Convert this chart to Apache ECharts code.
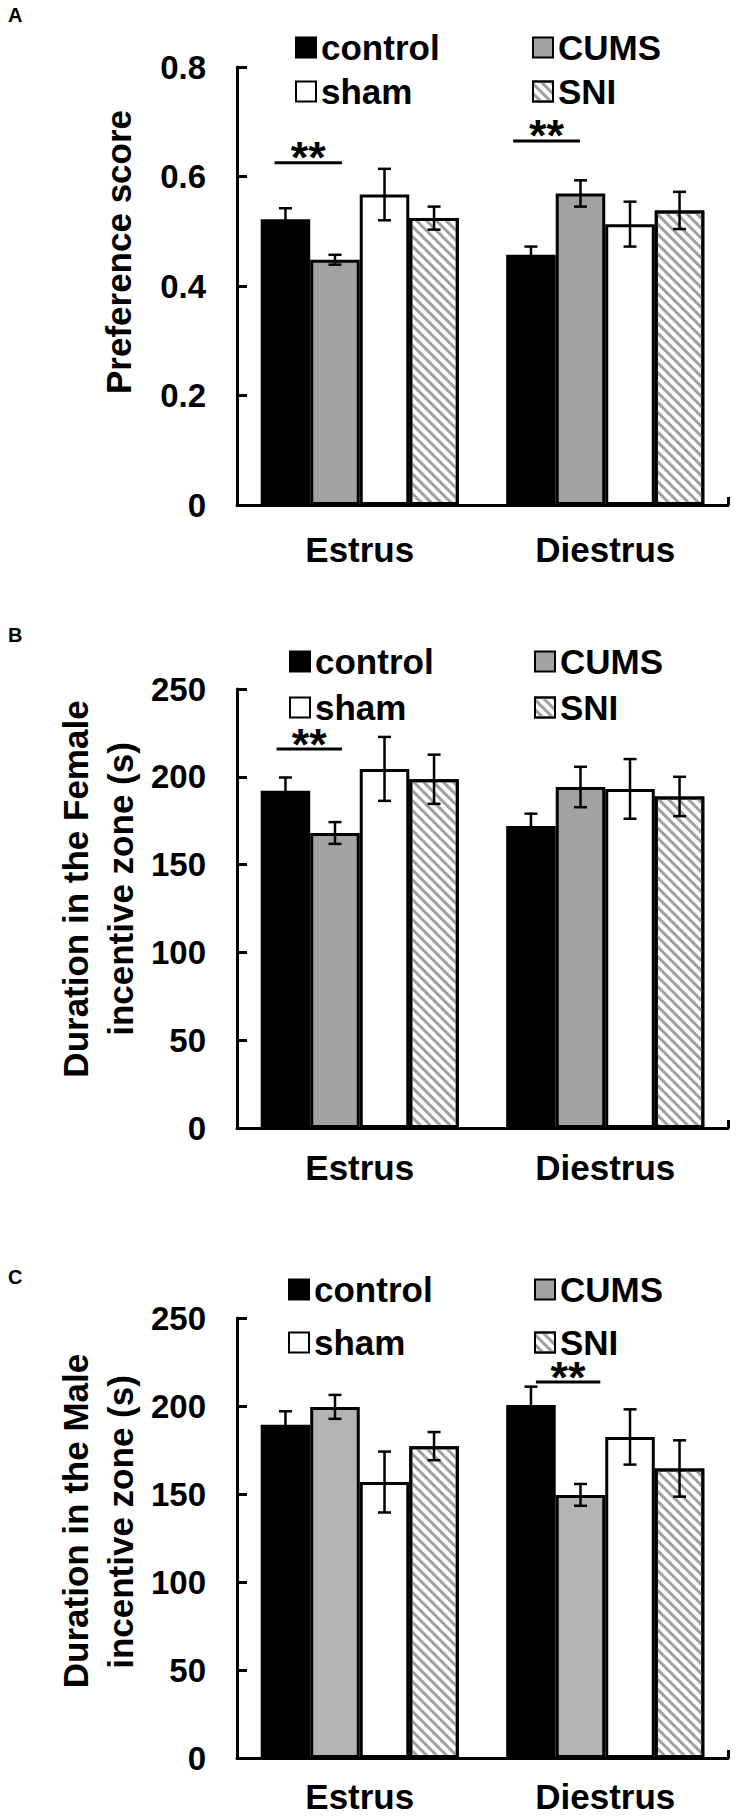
<!DOCTYPE html>
<html><head><meta charset="utf-8">
<script src="https://cdn.jsdelivr.net/npm/echarts@6/dist/echarts.min.js"></script>
<style>html,body{margin:0;padding:0;background:#fff}#c{width:739px;height:1818px}</style>
</head><body><div id="c"></div>
<script>
// ---------- data ----------
const categories = ['Estrus', 'Diestrus'];
const groups = ['control', 'CUMS', 'sham', 'SNI'];

// Panel A: Preference score (order: control, CUMS, sham, SNI; values for Estrus, Diestrus)
const prefMean = [[0.522, 0.457], [0.448, 0.569], [0.567, 0.513], [0.524, 0.538]];
const prefSE   = [[0.020, 0.015], [0.009, 0.024], [0.047, 0.041], [0.021, 0.034]];
const prefSig  = [[0, 0.625, 0, 1], [1, 0.665, 0, 1]];   // [category, height, groupFrom, groupTo]
const prefTicks = [0, 0.2, 0.4, 0.6, 0.8];

// Panel B: Duration in the female incentive zone (s)
const femMean = [[192.1, 172.0], [168.0, 194.2], [204.5, 193.1], [198.6, 188.8]];
const femSE   = [[7.5, 7.0], [6.2, 11.5], [18.2, 17.0], [14.0, 11.2]];
const femSig  = [[0, 215.8, 0, 1]];
const femTicks = [0, 50, 100, 150, 200, 250];

// Panel C: Duration in the male incentive zone (s)
const maleMean = [[189.4, 200.5], [199.5, 149.5], [156.8, 182.4], [177.2, 164.5]];
const maleSE   = [[7.6, 10.5], [6.8, 6.2], [17.3, 15.7], [8.0, 16.0]];
const maleSig  = [[1, 213.6, 0, 1]];
const maleTicks = [0, 50, 100, 150, 200, 250];

// ---------- styles / layout ----------
const FONT = "'Liberation Sans', Arial, Helvetica, sans-serif";
const CAT_GAP = 0.193;
const panels = [
  { letter: 'A', letterY: 15, top: 67, height: 438, mean: prefMean, se: prefSE, sig: prefSig, ticks: prefTicks,
    titles: [['Preference score', 118, 252]], cumsColor: '#a2a2a2', labelMargin: 27,
    legendRows: [48, 92], legendCols: [295, 532], sigOff: [[0.28, 1.64], [0.14, 1.49]] },
  { letter: 'B', letterY: 635, top: 689, height: 439, mean: femMean, se: femSE, sig: femSig, ticks: femTicks,
    titles: [['Duration in the Female', 75, 889], ['incentive zone (s)', 120, 889]], cumsColor: '#a2a2a2', labelMargin: 22,
    legendRows: [662, 708], legendCols: [289, 534], sigOff: [[0.32, 1.64]] },
  { letter: 'C', letterY: 1277, top: 1318, height: 440, mean: maleMean, se: maleSE, sig: maleSig, ticks: maleTicks,
    titles: [['Duration in the Male', 75, 1521], ['incentive zone (s)', 120, 1522]], cumsColor: '#b4b4b4', labelMargin: 21,
    legendRows: [1290, 1343], legendCols: [288, 534], sigOff: [[0.6, 1.9]] }
];

const sniDecal = { symbol: 'rect', symbolSize: 1, dashArrayX: [1, 0], dashArrayY: [3, 4],
  rotation: Math.PI / 4, color: '#a0a0a0', backgroundColor: '#ffffff' };

function barLayout(api, ci) {
  const band = api.size([1, 0])[0];
  const gw = band * (1 - CAT_GAP);
  const bw = gw / groups.length;
  const left = api.coord([ci, 0])[0] - gw / 2;
  return { left, bw };
}

const grid = [], xAxis = [], yAxis = [], series = [], legend = [], graphic = [];

panels.forEach((p, pi) => {
  grid.push({ left: 237, right: 11, top: p.top, height: p.height, containLabel: false });
  xAxis.push({
    type: 'category', gridIndex: pi, data: categories,
    axisLine: { lineStyle: { color: '#000', width: 3 } },
    axisTick: { show: true, inside: true, length: 8, lineStyle: { color: '#000', width: 3 },
      interval: function (idx) { return idx !== 1; } },
    axisLabel: { color: '#000', fontSize: 35, fontWeight: 'bold', fontFamily: FONT, margin: p.labelMargin }
  });
  const tk = p.ticks;
  yAxis.push({
    type: 'value', gridIndex: pi, min: tk[0], max: tk[tk.length - 1], interval: tk[1] - tk[0],
    splitLine: { show: false },
    axisLine: { show: true, lineStyle: { color: '#000', width: 3 } },
    axisTick: { show: true, inside: true, length: 10, lineStyle: { color: '#000', width: 3 } },
    axisLabel: { color: '#000', fontSize: 33, fontWeight: 'bold', fontFamily: FONT, margin: 31 }
  });

  groups.forEach((g, k) => {
    let color = '#000';
    if (g === 'CUMS') color = p.cumsColor;
    if (g === 'sham') color = '#fff';
    if (g === 'SNI') color = '#fff';
    const itemStyle = { color, borderColor: '#000', borderWidth: 3 };
    if (g === 'SNI') itemStyle.decal = sniDecal;
    series.push({
      type: 'bar', name: g, xAxisIndex: pi, yAxisIndex: pi, data: p.mean[k],
      barGap: '0%', barCategoryGap: (CAT_GAP * 100) + '%', itemStyle, silent: true,
      emphasis: { disabled: true }, animation: false
    });
  });

  // error bars
  const ebData = [];
  groups.forEach((g, k) => categories.forEach((c, ci) => ebData.push([ci, p.mean[k][ci], p.se[k][ci], k])));
  series.push({
    type: 'custom', xAxisIndex: pi, yAxisIndex: pi, data: ebData, z: 5, silent: true, animation: false,
    encode: { x: 0, y: 1 }, clip: false,
    renderItem: function (params, api) {
      const ci = api.value(0), m = api.value(1), s = api.value(2), k = api.value(3);
      const L = barLayout(api, ci);
      const x = L.left + (k + 0.5) * L.bw;
      const y1 = api.coord([ci, m + s])[1], y2 = api.coord([ci, m - s])[1];
      const hw = 6.5;
      const st = { stroke: '#000', lineWidth: 2.5 };
      return { type: 'group', children: [
        { type: 'line', shape: { x1: x, y1: y1, x2: x, y2: y2 }, style: st },
        { type: 'line', shape: { x1: x - hw, y1: y1, x2: x + hw, y2: y1 }, style: st },
        { type: 'line', shape: { x1: x - hw, y1: y2, x2: x + hw, y2: y2 }, style: st }
      ] };
    }
  });

  // significance marks
  series.push({
    type: 'custom', xAxisIndex: pi, yAxisIndex: pi, data: p.sig, z: 6, silent: true, animation: false,
    encode: { x: 0, y: 1 }, clip: false,
    renderItem: function (params, api) {
      const ci = api.value(0), h = api.value(1);
      const off = p.sigOff[params.dataIndex];
      const L = barLayout(api, ci);
      const xa = L.left + off[0] * L.bw, xb = L.left + off[1] * L.bw;
      const y = api.coord([ci, h])[1];
      return { type: 'group', children: [
        { type: 'line', shape: { x1: xa, y1: y, x2: xb, y2: y }, style: { stroke: '#000', lineWidth: 3 } },
        { type: 'text', x: (xa + xb) / 2, y: y - 5,
          style: { text: '**', fill: '#000', font: 'bold 45px ' + FONT, textAlign: 'center', textVerticalAlign: 'middle' } }
      ] };
    }
  });

  // legends
  const layout = [['control', 0, 0], ['CUMS', 0, 1], ['sham', 1, 0], ['SNI', 1, 1]];
  layout.forEach(([name, r, c]) => {
    legend.push({
      data: [name], left: p.legendCols[c], top: p.legendRows[r] - 18, padding: 0,
      itemWidth: 20, itemHeight: 20, icon: 'rect', selectedMode: false,
      itemStyle: { borderColor: '#000', borderWidth: 2 },
      textStyle: { color: '#000', fontSize: 35, fontWeight: 'bold', fontFamily: FONT }
    });
  });

  // panel letter
  graphic.push({ type: 'text', left: 8, top: p.letterY - 10,
    style: { text: p.letter, fill: '#000', font: 'bold 20px ' + FONT } });
  // y axis titles
  p.titles.forEach(([t, x, y]) => {
    graphic.push({ type: 'text', x: x, y: y, rotation: Math.PI / 2,
      style: { text: t, fill: '#000', font: 'bold 35px ' + FONT, textAlign: 'center', textVerticalAlign: 'middle' } });
  });
});

const chart = echarts.init(document.getElementById('c'), null, { renderer: 'svg', width: 739, height: 1818 });
chart.setOption({ animation: false, backgroundColor: '#fff', grid, xAxis, yAxis, series, legend, graphic });
</script>
</body></html>
